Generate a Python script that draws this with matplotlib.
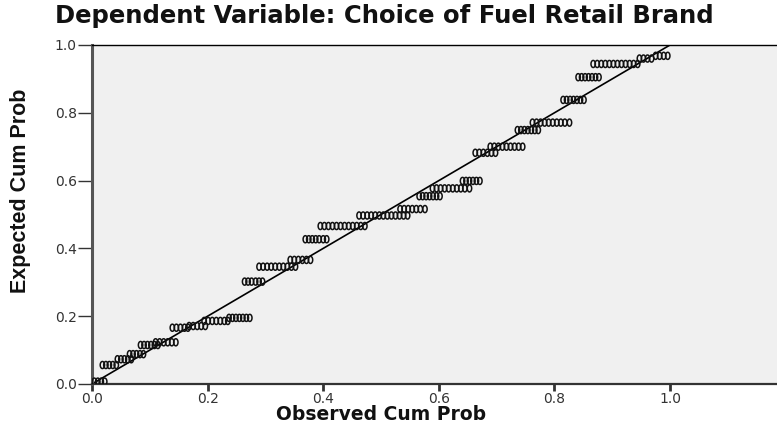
import matplotlib
matplotlib.use('Agg')
import matplotlib.pyplot as plt
import numpy as np
from matplotlib.path import Path

# observed cum prob / expected cum prob
observed = [
    0.004, 0.010, 0.016, 0.022,
    0.018, 0.024, 0.030, 0.036, 0.042,
    0.044, 0.050, 0.056, 0.062, 0.068,
    0.065, 0.071, 0.077, 0.083, 0.089,
    0.084, 0.090, 0.096, 0.102, 0.108, 0.114,
    0.110, 0.117, 0.124, 0.131, 0.138, 0.145,
    0.139, 0.146, 0.153, 0.160, 0.166,
    0.168, 0.175, 0.182, 0.189, 0.196,
    0.194, 0.201, 0.208, 0.215, 0.222, 0.229, 0.235,
    0.237, 0.243, 0.249, 0.255, 0.261, 0.267, 0.273,
    0.264, 0.270, 0.276, 0.283, 0.289, 0.295,
    0.289, 0.296, 0.303, 0.310, 0.317, 0.324, 0.331, 0.338, 0.345, 0.352,
    0.343, 0.350, 0.357, 0.364, 0.371, 0.378,
    0.369, 0.375, 0.381, 0.387, 0.393, 0.400, 0.406,
    0.395, 0.402, 0.409, 0.416, 0.423, 0.430, 0.437, 0.444, 0.451, 0.458, 0.465, 0.472,
    0.462, 0.469, 0.476, 0.483, 0.490, 0.497, 0.504, 0.511, 0.518, 0.525, 0.532, 0.539, 0.546,
    0.533, 0.540, 0.547, 0.554, 0.561, 0.568, 0.576,
    0.566, 0.572, 0.578, 0.584, 0.590, 0.596, 0.602,
    0.589, 0.596, 0.603, 0.610, 0.617, 0.624, 0.631, 0.638, 0.645, 0.653,
    0.641, 0.647, 0.653, 0.659, 0.665, 0.671,
    0.663, 0.670, 0.677, 0.684, 0.691, 0.698,
    0.689, 0.696, 0.703, 0.710, 0.717, 0.724, 0.731, 0.738, 0.745,
    0.736, 0.742, 0.748, 0.754, 0.760, 0.766, 0.772,
    0.762, 0.769, 0.776, 0.783, 0.790, 0.797, 0.804, 0.811, 0.818, 0.826,
    0.815, 0.821, 0.827, 0.833, 0.839, 0.845, 0.851,
    0.841, 0.847, 0.853, 0.859, 0.865, 0.871, 0.877,
    0.867, 0.874, 0.881, 0.888, 0.895, 0.902, 0.909, 0.916, 0.923, 0.930, 0.937, 0.944,
    0.947, 0.954, 0.961, 0.968,
    0.975, 0.982, 0.989, 0.996,
]
expected = (
    [0.007] * 4 + [0.056] * 5 + [0.073] * 5 + [0.088] * 5 + [0.115] * 6
    + [0.123] * 6 + [0.166] * 5 + [0.171] * 5 + [0.186] * 7 + [0.195] * 7
    + [0.302] * 6 + [0.346] * 10 + [0.366] * 6 + [0.427] * 7 + [0.466] * 12
    + [0.497] * 13 + [0.516] * 7 + [0.554] * 7 + [0.577] * 10 + [0.599] * 6
    + [0.682] * 6 + [0.700] * 9 + [0.749] * 7 + [0.771] * 10 + [0.838] * 7
    + [0.905] * 7 + [0.944] * 12 + [0.960] * 4 + [0.968] * 4
)

x_ticks = [0.0, 0.2, 0.4, 0.6, 0.8, 1.0]
y_ticks = [0.0, 0.2, 0.4, 0.6, 0.8, 1.0]

# narrow oval marker like the SPSS circles
t = np.linspace(0, 2 * np.pi, 40)
oval = Path(np.column_stack([0.62 * np.cos(t), np.sin(t)]), closed=True)

fig = plt.figure(figsize=(7.77, 4.38), dpi=100)
ax = fig.add_axes([0.1184, 0.1233, 0.8816, 0.774])
ax.set_facecolor('#f0f0f0')

ax.plot([0, 1], [0, 1], color='black', lw=1.2, zorder=2)
ax.scatter(observed, expected, marker=oval, s=26, facecolors='none',
           edgecolors='#111111', linewidths=1.1, zorder=3)

ax.set_xlim(0, 1.185)
ax.set_ylim(0, 1.0)
ax.set_xticks(x_ticks)
ax.set_xticklabels([f'{v:.1f}' for v in x_ticks])
ax.set_yticks(y_ticks)
ax.set_yticklabels([f'{v:.1f}' for v in y_ticks])
ax.tick_params(axis='y', length=10, width=1, color='#333333',
               labelsize=10, labelcolor='#333333', pad=1)
ax.tick_params(axis='x', length=5, width=2, color='#333333',
               labelsize=10, labelcolor='#333333', pad=0.5)

ax.spines['right'].set_visible(False)
ax.spines['top'].set_linewidth(1.0)
ax.spines['top'].set_color('black')
ax.spines['left'].set_linewidth(2.2)
ax.spines['left'].set_color('#555555')
ax.spines['bottom'].set_linewidth(1.6)
ax.spines['bottom'].set_color('#333333')

fig.text(0.495, 0.963, 'Dependent Variable: Choice of Fuel Retail Brand',
         ha='center', va='center', fontsize=17.5, fontweight='bold',
         family='DejaVu Sans', color='#111111')
fig.text(0.49, 0.054, 'Observed Cum Prob', ha='center', va='center',
         fontsize=13.5, fontweight='bold', family='DejaVu Sans', color='#111111')
fig.text(0.027, 0.564, 'Expected Cum Prob', ha='center', va='center',
         rotation=90, fontsize=15.5, fontweight='bold',
         family='Liberation Sans', color='#111111')

fig.savefig('out.png', dpi=100)
